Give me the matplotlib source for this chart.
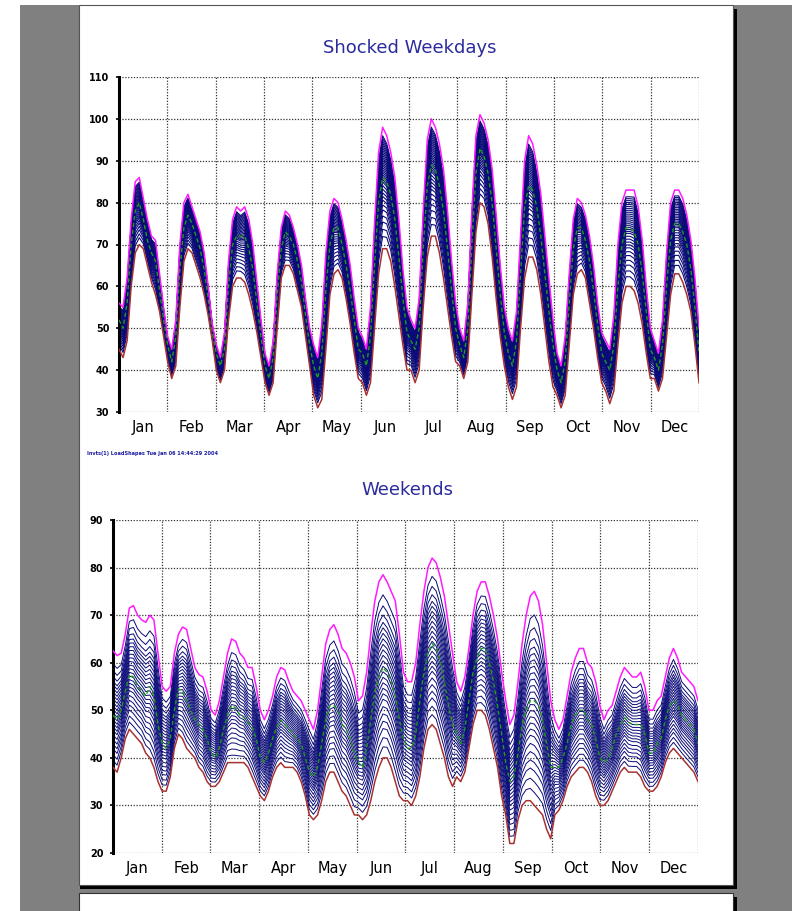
import numpy as np
import matplotlib.pyplot as plt
from matplotlib.patches import Rectangle

months = ['Jan', 'Feb', 'Mar', 'Apr', 'May', 'Jun', 'Jul', 'Aug', 'Sep', 'Oct', 'Nov', 'Dec']

# weekday load shapes, 12 readings per month (every 2 hours)
wd_max = [
    [56, 55, 62, 76, 85, 86, 81, 76, 72, 71, 63, 55],
    [48, 45, 52, 70, 80, 82, 79, 76, 73, 68, 60, 51],
    [46, 43, 49, 66, 76, 79, 78, 79, 76, 70, 61, 52],
    [44, 41, 47, 63, 74, 78, 77, 74, 70, 65, 57, 50],
    [46, 43, 51, 68, 78, 81, 80, 76, 71, 65, 57, 50],
    [48, 45, 55, 75, 92, 98, 96, 92, 86, 76, 64, 55],
    [52, 50, 57, 78, 95, 100, 98, 94, 88, 78, 66, 56],
    [50, 47, 56, 78, 96, 101, 99, 95, 88, 77, 65, 55],
    [50, 47, 54, 72, 90, 96, 94, 89, 82, 72, 62, 52],
    [44, 41, 48, 63, 76, 81, 80, 77, 72, 65, 56, 49],
    [47, 45, 53, 70, 80, 83, 83, 83, 79, 71, 60, 50],
    [47, 44, 52, 68, 80, 83, 83, 81, 77, 71, 62, 50],
]
wd_min = [
    [45, 43, 47, 60, 68, 70, 69, 65, 61, 58, 54, 48],
    [42, 38, 41, 55, 66, 69, 68, 65, 62, 58, 53, 47],
    [40, 37, 40, 52, 60, 62, 62, 61, 58, 54, 49, 43],
    [37, 34, 37, 50, 62, 65, 65, 63, 59, 55, 48, 41],
    [34, 31, 33, 45, 58, 63, 64, 62, 57, 51, 44, 38],
    [37, 34, 37, 50, 63, 69, 69, 66, 60, 53, 46, 40],
    [40, 37, 40, 55, 67, 72, 72, 68, 62, 55, 48, 42],
    [41, 38, 42, 58, 73, 80, 79, 75, 67, 57, 48, 41],
    [36, 33, 36, 50, 62, 67, 67, 64, 58, 50, 42, 36],
    [34, 31, 34, 46, 58, 63, 64, 62, 56, 50, 43, 37],
    [35, 32, 35, 46, 56, 60, 60, 59, 56, 51, 44, 38],
    [38, 35, 38, 48, 58, 63, 63, 61, 58, 54, 46, 37],
]
wd_mean = [
    [52, 50, 56, 70, 78, 80, 76, 71, 68, 66, 59, 52],
    [46, 42, 48, 64, 74, 77, 75, 72, 69, 64, 57, 49],
    [44, 41, 45, 60, 70, 72, 72, 72, 69, 64, 56, 48],
    [41, 38, 43, 58, 69, 73, 72, 70, 66, 61, 53, 46],
    [41, 38, 44, 59, 70, 74, 74, 70, 65, 59, 52, 45],
    [44, 41, 48, 65, 80, 86, 85, 82, 76, 67, 57, 49],
    [47, 45, 50, 69, 84, 89, 88, 84, 78, 69, 59, 50],
    [46, 43, 50, 70, 87, 93, 91, 87, 80, 69, 58, 49],
    [44, 41, 47, 63, 79, 84, 83, 79, 72, 63, 54, 46],
    [40, 37, 42, 56, 69, 74, 74, 71, 66, 59, 51, 44],
    [42, 40, 46, 60, 70, 74, 74, 73, 70, 63, 54, 45],
    [43, 40, 46, 60, 71, 75, 75, 73, 70, 64, 55, 44],
]
# where each scenario line sits between the brown (0) and magenta (1) curves
wd_levels = [0.10, 0.16, 0.22, 0.27, 0.32, 0.36, 0.40, 0.43, 0.46, 0.49, 0.52,
             0.55, 0.57, 0.59, 0.61, 0.63, 0.65, 0.67, 0.69, 0.71, 0.73, 0.75,
             0.77, 0.79, 0.81, 0.83, 0.85, 0.87, 0.89, 0.91, 0.93]

# weekend load shapes
we_max = [
    [62.5, 61.5, 62, 66, 71.5, 72, 70, 69, 68.5, 70, 69, 62],
    [55, 54, 55, 62, 66, 67.5, 67, 63, 59, 57.5, 57, 54],
    [50, 49, 52, 57, 62, 65, 64.5, 62, 61, 59, 59, 55],
    [50, 48, 50, 53, 57, 59, 58.5, 56, 54, 53, 52, 50],
    [48, 46, 50, 57, 64, 67, 68, 66, 63, 62, 60, 57],
    [52, 53, 58, 66, 73, 77, 78.5, 77, 75, 73, 66, 58],
    [56, 56, 60, 68, 75, 80, 82, 81, 78, 74, 68, 62],
    [56, 54, 57, 63, 70, 75, 77, 77, 74, 70, 65, 58],
    [52, 47, 49, 56, 64, 70, 74, 75, 73, 68, 60, 52],
    [48, 46, 48, 53, 58, 61, 63, 63, 60, 59, 56, 51],
    [48, 50, 51, 54, 57, 59, 58, 57, 57, 58, 55, 50],
    [50, 52, 53, 57, 61, 63, 61, 58, 57, 56, 55, 52],
]
we_min = [
    [38, 37, 40, 44, 46, 45, 44, 43, 41, 40, 38, 35],
    [33, 33, 36, 42, 45, 44, 42, 41, 40, 38, 37, 35],
    [34, 34, 35, 37, 39, 39, 39, 39, 39, 38, 36, 34],
    [32, 31, 33, 36, 38, 39, 38, 38, 38, 37, 35, 32],
    [28, 27, 28, 31, 35, 37, 37, 35, 33, 32, 30, 28],
    [28, 27, 28, 31, 35, 38, 40, 40, 38, 35, 32, 31],
    [31, 30, 32, 36, 42, 46, 47, 46, 43, 40, 36, 34],
    [36, 35, 37, 42, 47, 50, 50, 49, 46, 42, 38, 32],
    [28, 22, 22, 27, 30, 31, 31, 30, 29, 28, 25, 23],
    [28, 29, 31, 34, 36, 37, 38, 38, 37, 35, 32, 30],
    [30, 31, 33, 35, 37, 38, 37, 37, 37, 36, 34, 33],
    [33, 34, 36, 39, 41, 42, 41, 40, 39, 38, 37, 35],
]
we_mean = [
    [49, 48, 50, 54, 57.5, 57, 55, 54, 53, 55, 53, 47],
    [43, 42, 44, 50, 54.5, 54, 52, 50, 48, 47, 46, 44],
    [41, 40, 42, 46, 49, 51, 50.5, 49, 48.5, 47.5, 46.5, 44],
    [40, 39, 41, 44, 46.5, 48, 47, 46, 45, 44, 43, 40],
    [37, 36, 38, 43, 48, 51, 51, 50, 47, 46, 44, 41],
    [39, 38, 42, 48, 54, 57, 59, 58, 56, 53, 48, 44],
    [42, 42, 45, 52, 58, 62, 64, 63, 60, 56, 51, 47],
    [45, 43, 46, 52, 58, 61, 63, 63, 60, 56, 51, 45],
    [39, 35, 36, 41, 47, 50, 52, 52, 51, 48, 43, 38],
    [38, 38, 40, 43, 47, 49, 50, 50, 48, 47, 44, 40],
    [39, 40, 42, 45, 47, 48.5, 47.5, 47, 47, 47, 45, 41],
    [41, 43, 44, 48, 51, 52, 51, 49, 48, 47, 46, 43],
]
we_levels = [0.06, 0.11, 0.16, 0.20, 0.24, 0.28, 0.32, 0.35, 0.38, 0.41, 0.44,
             0.47, 0.50, 0.53, 0.56, 0.59, 0.62, 0.65, 0.68, 0.71, 0.74, 0.78,
             0.83, 0.89]

NAVY = '#0a0a78'
MAGENTA = '#ff1aff'
BROWN = '#a83232'
GREEN = '#1e9a1e'
TITLE_BLUE = '#2b2b9c'


def flat(rows):
    return np.array([v for row in rows for v in row], dtype=float)


def draw_panel(ax, hi_rows, lo_rows, mean_rows, levels, ylo, yhi, lw):
    hi = flat(hi_rows)
    lo = flat(lo_rows)
    mean = flat(mean_rows)
    x = np.arange(len(hi)) * 12.0 / (len(hi) - 1)

    for w in levels:
        ax.plot(x, lo + w * (hi - lo), color=NAVY, lw=lw, zorder=2)
    ax.plot(x, mean, color=GREEN, lw=1.0, ls=(0, (3, 2)), zorder=3)
    ax.plot(x, hi, color=MAGENTA, lw=1.1, zorder=4)
    ax.plot(x, lo, color=BROWN, lw=1.1, zorder=4)

    ax.set_xlim(0, 12)
    ax.set_ylim(ylo, yhi)
    ax.set_xticks(range(13))
    ax.set_xticklabels([])
    ax.set_xticks(np.arange(12) + 0.5, minor=True)
    ax.set_xticklabels(months, minor=True, fontsize=10.5)
    ax.tick_params(axis='x', which='both', length=0, pad=6)
    ax.set_yticks(range(ylo, yhi + 1, 10))
    ax.tick_params(axis='y', length=2, width=1.2, labelsize=7, pad=5)
    for lab in ax.get_yticklabels():
        lab.set_fontweight('bold')
    ax.grid(True, color='#333333', ls=(0, (1, 1.3)), lw=0.9)
    ax.set_axisbelow(True)
    for side in ['top', 'right', 'bottom']:
        ax.spines[side].set_visible(False)
    ax.spines['left'].set_linewidth(2.2)
    ax.set_facecolor('white')


W, H = 795, 911
fig = plt.figure(figsize=(W / 100, H / 100), dpi=100)
fig.patch.set_facecolor('white')

def px_rect(x0, y0, x1, y1, **kw):
    fig.patches.append(Rectangle((x0 / W, 1 - y1 / H), (x1 - x0) / W, (y1 - y0) / H,
                                 transform=fig.transFigure, figure=fig, **kw))

# page background, pages and shadows
px_rect(20, 5, 792, 911, facecolor='#808080', edgecolor='none', zorder=-10)
px_rect(80, 9, 737, 889, facecolor='black', edgecolor='none', zorder=-9)
px_rect(79, 5, 733, 885, facecolor='white', edgecolor='#555555', lw=0.8, zorder=-8)
px_rect(80, 897, 737, 915, facecolor='black', edgecolor='none', zorder=-9)
px_rect(79, 893, 733, 915, facecolor='white', edgecolor='#333333', lw=0.8, zorder=-8)

ax1 = fig.add_axes([119 / W, 1 - 412 / H, 580 / W, 335 / H])
draw_panel(ax1, wd_max, wd_min, wd_mean, wd_levels, 30, 110, 0.8)
ax2 = fig.add_axes([113 / W, 1 - 853 / H, 585 / W, 333 / H])
draw_panel(ax2, we_max, we_min, we_mean, we_levels, 20, 90, 0.7)

fig.text(410 / W, 1 - 48 / H, 'Shocked Weekdays', color=TITLE_BLUE, fontsize=13,
         ha='center', va='center')
fig.text(407 / W, 1 - 490 / H, 'Weekends', color=TITLE_BLUE, fontsize=13,
         ha='center', va='center')
fig.text(87 / W, 1 - 453 / H, 'Invts(1) LoadShapes Tue Jan 06 14:44:29 2004',
         color='#1a1aa0', fontsize=3.6, fontweight='bold', ha='left', va='center')

fig.savefig('out.png', dpi=100, facecolor=fig.get_facecolor())
